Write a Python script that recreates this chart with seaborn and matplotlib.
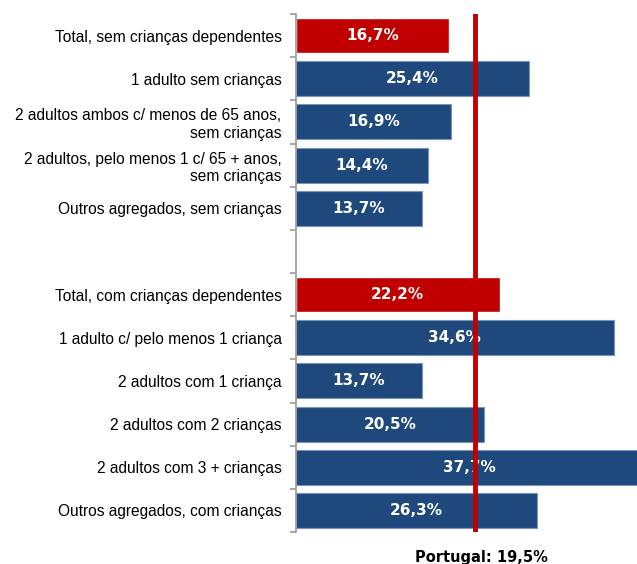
import seaborn as sns
import matplotlib.pyplot as plt
import pandas as pd
from matplotlib.ticker import FixedLocator

categorias = [
    "Total, sem crianças dependentes",
    "1 adulto sem crianças",
    "2 adultos ambos c/ menos de 65 anos,\nsem crianças",
    "2 adultos, pelo menos 1 c/ 65 + anos,\nsem crianças",
    "Outros agregados, sem crianças",
    "Total, com crianças dependentes",
    "1 adulto c/ pelo menos 1 criança",
    "2 adultos com 1 criança",
    "2 adultos com 2 crianças",
    "2 adultos com 3 + crianças",
    "Outros agregados, com crianças",
]
valores = [16.7, 25.4, 16.9, 14.4, 13.7, 22.2, 34.6, 13.7, 20.5, 37.7, 26.3]
tipo = ["total", "sub", "sub", "sub", "sub", "total", "sub", "sub", "sub", "sub", "sub"]
portugal = 19.5

RED = "#C00000"
BLUE = "#1F497D"

df = pd.DataFrame({"categoria": categorias, "valor": valores, "tipo": tipo})
ordem = categorias[:5] + [" "] + categorias[5:]

sns.set_style("white")
plt.rcParams["font.family"] = ["Liberation Sans", "DejaVu Sans"]

fig = plt.figure(figsize=(6.37, 5.64), dpi=100)
ax = fig.add_axes([295.5 / 637, 1 - 532 / 564, 1 - 295.5 / 637, (532 - 14) / 564])

sns.barplot(data=df, y="categoria", x="valor", hue="tipo", order=ordem,
            palette={"total": RED, "sub": BLUE}, dodge=False, legend=False,
            width=0.81, saturation=1, ax=ax)

for p in ax.patches:
    if p.get_facecolor()[2] > 0.3:
        p.set_edgecolor("#7896bd")
        p.set_linewidth(0.8)

for cat, v in zip(categorias, valores):
    pos = ordem.index(cat)
    ax.text(v / 2, pos, f"{v:.1f}%".replace(".", ","), ha="center", va="center",
            color="white", fontweight="bold", fontsize=11, family="DejaVu Sans",
            zorder=4)

ax.axvline(portugal, color=RED, lw=3.5, zorder=5)

ax.set_xlim(0, 37.12)
ax.set_ylim(11.5, -0.5)
ax.set_xlabel("")
ax.set_ylabel("")
ax.set_xticks([])
sns.despine(ax=ax, top=True, right=True, bottom=True)
ax.spines["left"].set_color("#9a9a9a")
ax.spines["left"].set_linewidth(1.2)

ax.yaxis.set_minor_locator(FixedLocator([i - 0.5 for i in range(13)]))
ax.tick_params(axis="y", which="minor", length=4, color="#9a9a9a", width=1.2, left=True)
ax.tick_params(axis="y", which="major", length=0, pad=10, labelsize=11.2, labelcolor="black")
for lab in ax.get_yticklabels():
    lab.set_linespacing(1.2)

fig.text(481 / 637, 0.004, f"Portugal: {portugal:.1f}%".replace(".", ","),
         ha="center", va="baseline", fontweight="bold", fontsize=10.5,
         family="DejaVu Sans", color="black")

fig.savefig("out.png", dpi=100)
